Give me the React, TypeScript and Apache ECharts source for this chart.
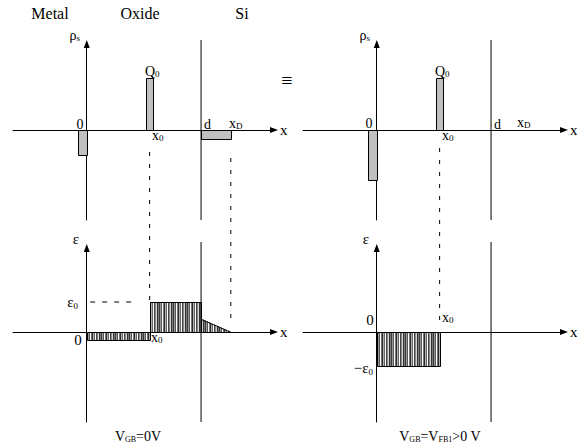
import React, { useEffect, useRef } from 'react';
import * as echarts from 'echarts';

// ---------- data (arbitrary length units along x, arbitrary magnitudes along y) ----------
const regionNames = ['Metal', 'Oxide', 'Si'];
const x0 = 5.5; // position of sheet charge Q0
const d = 10; // oxide thickness
const xD = 12.6; // depletion edge
const Q0 = 5.2;
const eps0Left = 3.0;
const eps0Right = 3.4;

// charge density bars, VGB = 0 V
const chargeStartLeft = [-0.8, 5.2, d];
const chargeEndLeft = [0, 5.8, xD];
const chargeLeft = [-2.5, Q0, -0.9];
// charge density bars, VGB = VFB1
const chargeStartRight = [-0.8, 5.2];
const chargeEndRight = [0, 5.8];
const chargeRight = [-5.0, Q0];

// electric field segments, VGB = 0 V
const fieldStartLeft = [0, x0, d];
const fieldEndLeft = [x0, d, xD];
const fieldFromLeft = [-0.8, eps0Left, 1.35];
const fieldToLeft = [-0.8, eps0Left, 0];
// electric field segments, VGB = VFB1
const fieldStartRight = [0];
const fieldEndRight = [x0];
const fieldFromRight = [-eps0Right];
const fieldToRight = [-eps0Right];

const biasLabels = ['{m|V}{s|GB}{m|=0V}', '{m|V}{s|GB}{m|=V}{s|FB1}{m|>0 V}'];

// ---------- layout ----------
const FONT = '"Liberation Serif", "Times New Roman", serif';
const X_MIN = -6.45;
const X_MAX = 16.38;
const TOP_Y = [-9, 8.6];
const BOT_Y = [-9, 8.4];
const GRID_SHIFT = 20.2; // top-grid units between the two x axes
const STRIPES = ['#3a3a3a', '#9a9a9a', '#555555', '#ffffff', '#777777', '#2a2a2a', '#b0b0b0', '#666666', '#ffffff', '#444444', '#8a8a8a', '#d4d4d4', '#333333', '#7a7a7a'];

const richStyle = (main: number, sub: number) => ({
  m: { fontSize: main, lineHeight: main + 1, fontFamily: FONT, fill: '#000' },
  s: { fontSize: sub, lineHeight: sub, fontFamily: FONT, fill: '#000', verticalAlign: 'bottom' },
});

type LabelDef = { g: number; x: number; y: number; text: string; dx: number; dy: number; align: string; size?: number };

const axisLabels: LabelDef[] = [
  // top-left: charge density, VGB = 0 V
  { g: 0, x: 0, y: TOP_Y[1], text: '{m|ρ}{s|s}', dx: -6.7, dy: -9, align: 'right' },
  { g: 0, x: 0, y: 0, text: '{m|0}', dx: -6.4, dy: -6, align: 'center' },
  { g: 0, x: x0, y: Q0, text: '{m|Q}{s|0}', dx: -4.6, dy: -7.5, align: 'left' },
  { g: 0, x: x0, y: 0, text: '{m|x}{s|0}', dx: 2, dy: 5, align: 'left' },
  { g: 0, x: d, y: 0, text: '{m|d}', dx: 3, dy: -6.5, align: 'left' },
  { g: 0, x: xD, y: 0, text: '{m|x}{s|D}', dx: -1.5, dy: -7, align: 'left' },
  // top-right: charge density, flat band
  { g: 1, x: 0, y: TOP_Y[1], text: '{m|ρ}{s|s}', dx: -6.7, dy: -9, align: 'right' },
  { g: 1, x: 0, y: 0, text: '{m|0}', dx: -7.4, dy: -7.5, align: 'center' },
  { g: 1, x: x0, y: Q0, text: '{m|Q}{s|0}', dx: -4.6, dy: -7.5, align: 'left' },
  { g: 1, x: x0, y: 0, text: '{m|x}{s|0}', dx: 2, dy: 5, align: 'left' },
  { g: 1, x: d, y: 0, text: '{m|d}', dx: 3, dy: -6.5, align: 'left' },
  { g: 1, x: xD, y: 0, text: '{m|x}{s|D}', dx: -4, dy: -8, align: 'left' },
  // bottom-left: field, VGB = 0 V
  { g: 2, x: 0, y: BOT_Y[1], text: '{m|ε}', dx: -10.7, dy: -9.5, align: 'center', size: 15 },
  { g: 2, x: 0, y: eps0Left, text: '{m|ε}{s|0}', dx: -8.7, dy: 0, align: 'right', size: 15 },
  { g: 2, x: 0, y: 0, text: '{m|0}', dx: -8.3, dy: 8, align: 'center', size: 15 },
  { g: 2, x: x0, y: 0, text: '{m|x}{s|0}', dx: 1, dy: 5, align: 'left' },
  // bottom-right: field, flat band
  { g: 3, x: 0, y: BOT_Y[1], text: '{m|ε}', dx: -10.7, dy: -9.5, align: 'center', size: 15 },
  { g: 3, x: 0, y: -eps0Right, text: '{m|−ε}{s|0}', dx: -3.7, dy: 1.6, align: 'right', size: 15 },
  { g: 3, x: 0, y: 0, text: '{m|0}', dx: -6.7, dy: -12, align: 'center', size: 15 },
  { g: 3, x: x0, y: 0, text: '{m|x}{s|0}', dx: 2, dy: -15, align: 'left' },
];

const zip3 = (a: number[], b: number[], c: number[]) => a.map((v, i) => [v, b[i], c[i]]);
const zip4 = (a: number[], b: number[], c: number[], e: number[]) => a.map((v, i) => [v, b[i], c[i], e[i]]);

const chargeSeries = (gi: number, data: number[][]) => ({
  type: 'custom',
  xAxisIndex: gi,
  yAxisIndex: gi,
  clip: false,
  z: 3,
  encode: { x: [0, 1], y: 2 },
  data,
  renderItem: (params: any, api: any) => {
    const a = api.coord([api.value(0), 0]);
    const b = api.coord([api.value(1), api.value(2)]);
    const xl = Math.round(Math.min(a[0], b[0])) + 0.5;
    const xr = Math.round(Math.max(a[0], b[0])) + 0.5;
    const yt = Math.round(Math.min(a[1], b[1])) + 0.5;
    const yb = Math.round(Math.max(a[1], b[1])) + 0.5;
    return {
      type: 'rect',
      shape: { x: xl, y: yt, width: xr - xl, height: yb - yt },
      style: { fill: '#c0c0c0', stroke: '#000', lineWidth: 1 },
    };
  },
});

const fieldSeries = (gi: number, data: number[][]) => ({
  type: 'custom',
  xAxisIndex: gi,
  yAxisIndex: gi,
  clip: false,
  z: 3,
  encode: { x: [0, 1], y: [2, 3] },
  data,
  renderItem: (params: any, api: any) => {
    const s0 = api.coord([api.value(0), 0]);
    const s1 = api.coord([api.value(0), api.value(2)]);
    const e1 = api.coord([api.value(1), api.value(3)]);
    const e0 = api.coord([api.value(1), 0]);
    const left = Math.round(s0[0]);
    const right = Math.round(e0[0]);
    const base = Math.round(s0[1]);
    const yS = s1[1];
    const yE = e1[1];
    const children: any[] = [];
    for (let px = left; px < right; px++) {
      const t = (px + 0.5 - left) / (right - left);
      const yy = yS + (yE - yS) * t;
      children.push({
        type: 'line',
        shape: { x1: px + 0.5, y1: base, x2: px + 0.5, y2: yy },
        style: { stroke: STRIPES[(px - left + params.dataIndex * 5) % STRIPES.length], lineWidth: 1 },
      });
    }
    children.push({
      type: 'polyline',
      shape: {
        points: [
          [left + 0.5, base + 0.5],
          [left + 0.5, Math.round(yS) + 0.5],
          [right + 0.5, Math.round(yE) + 0.5],
          [right + 0.5, base + 0.5],
          [left + 0.5, base + 0.5],
        ],
      },
      style: { stroke: '#000', fill: 'none', lineWidth: 1 },
    });
    return { type: 'group', children };
  },
});

const vLine = (gi: number, x: number, y1: number, y2: number, dashed: boolean) => ({
  type: 'line',
  xAxisIndex: gi,
  yAxisIndex: gi,
  clip: false,
  symbol: 'none',
  silent: true,
  z: 4,
  data: [
    [x, y1],
    [x, y2],
  ],
  lineStyle: { color: '#000', width: 1, type: dashed ? [4, 8] : 'solid' },
});

export default function App() {
  const ref = useRef<HTMLDivElement>(null);
  useEffect(() => {
    if (!ref.current) return;
    const chart = echarts.init(ref.current, undefined, { renderer: 'svg' });
    const grids = [
      { left: 13, top: 44, width: 261, height: 176 },
      { left: 303, top: 44, width: 261, height: 176 },
      { left: 13, top: 248, width: 261, height: 174 },
      { left: 303, top: 248, width: 261, height: 174 },
    ];
    const axisLine = {
      onZero: true,
      symbol: ['none', 'triangle'],
      symbolSize: [6, 8],
      lineStyle: { color: '#000', width: 1 },
    };
    const xAxes = grids.map((_, i) => ({
      type: 'value',
      gridIndex: i,
      min: X_MIN,
      max: X_MAX,
      name: 'x',
      nameLocation: 'end',
      nameGap: 6,
      nameTextStyle: { fontFamily: FONT, fontSize: 15, color: '#000', padding: [0, 0, 3, 0] },
      axisLine,
      axisTick: { show: false },
      axisLabel: { show: false },
      splitLine: { show: false },
    }));
    const yAxes = grids.map((_, i) => ({
      type: 'value',
      gridIndex: i,
      min: i < 2 ? TOP_Y[0] : BOT_Y[0],
      max: i < 2 ? TOP_Y[1] : BOT_Y[1],
      axisLine,
      axisTick: { show: false },
      axisLabel: { show: false },
      splitLine: { show: false },
    }));
    const titleX = [50, 140, 242];
    const staticGraphic: any[] = [
      ...regionNames.map((n, i) => ({
        type: 'text',
        x: titleX[i],
        y: 13,
        style: { text: n, fontFamily: FONT, fontSize: 16, fill: '#000', align: 'center', verticalAlign: 'middle' },
      })),
      {
        type: 'text',
        x: 287,
        y: 80,
        style: { text: '≡', fontFamily: FONT, fontSize: 20, fill: '#000', align: 'center', verticalAlign: 'middle' },
      },
      ...biasLabels.map((t, i) => ({
        type: 'text',
        x: i === 0 ? 138 : 440,
        y: 436,
        style: { text: t, rich: richStyle(14, 8), fontFamily: FONT, fontSize: 14, fill: '#000', align: 'center', verticalAlign: 'middle' },
      })),
    ];
    const option: any = {
      animation: false,
      backgroundColor: '#fff',
      grid: grids,
      xAxis: xAxes,
      yAxis: yAxes,
      graphic: staticGraphic,
      series: [
        // oxide / silicon boundary
        vLine(0, d, 9, TOP_Y[0], false),
        vLine(1, d, 9, TOP_Y[0], false),
        vLine(2, d, 9, BOT_Y[0], false),
        vLine(3, d, 9, BOT_Y[0], false),
        // dashed projections from charge plot to field plot
        vLine(0, x0, -2.2, eps0Left - GRID_SHIFT, true),
        vLine(0, xD, -2.8, 1.2 - GRID_SHIFT, true),
        vLine(1, x0, -1.8, 0.5 - GRID_SHIFT, true),
        {
          type: 'line',
          xAxisIndex: 2,
          yAxisIndex: 2,
          symbol: 'none',
          silent: true,
          z: 4,
          data: [
            [0.3, eps0Left],
            [4.0, eps0Left],
          ],
          lineStyle: { color: '#000', width: 1, type: [5, 7] },
        },
        chargeSeries(0, zip3(chargeStartLeft, chargeEndLeft, chargeLeft)),
        chargeSeries(1, zip3(chargeStartRight, chargeEndRight, chargeRight)),
        fieldSeries(2, zip4(fieldStartLeft, fieldEndLeft, fieldFromLeft, fieldToLeft)),
        fieldSeries(3, zip4(fieldStartRight, fieldEndRight, fieldFromRight, fieldToRight)),
      ],
    };
    chart.setOption(option);
    // place axis annotations through the axes' own scales
    const labelGraphic = axisLabels.map((l) => {
      const p = chart.convertToPixel({ gridIndex: l.g } as any, [l.x, l.y]) as number[];
      const size = l.size || 14;
      return {
        type: 'text',
        x: Math.round(p[0] + l.dx),
        y: Math.round(p[1] + l.dy),
        z: 100,
        style: { text: l.text, rich: richStyle(size, 9), fontFamily: FONT, fontSize: size, fill: '#000', align: l.align, verticalAlign: 'middle' },
      };
    });
    chart.setOption({ graphic: [...staticGraphic, ...labelGraphic] });
    return () => chart.dispose();
  }, []);
  return <div ref={ref} style={{ position: 'absolute', left: 0, top: 0, width: 581, height: 448 }} />;
}
